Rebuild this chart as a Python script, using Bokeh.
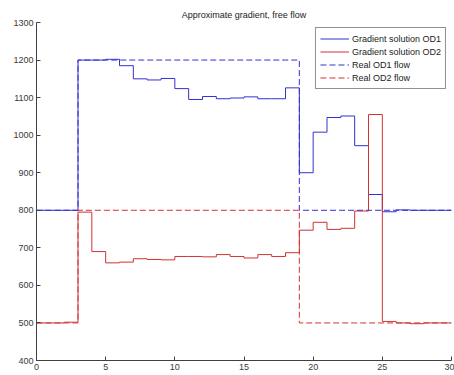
from bokeh.plotting import figure
from bokeh.models import FixedTicker, Range1d, Legend, LegendItem
from bokeh.embed import file_html
from bokeh.resources import INLINE

# data
steps = list(range(0, 31))
grad_od1 = [800, 800, 800, 1200, 1200, 1202, 1185, 1150, 1147, 1151, 1124, 1095, 1103, 1097, 1099,
            1102, 1097, 1097, 1126, 900, 1008, 1047, 1051, 972, 842, 796, 801, 800, 800, 800, 800]
grad_od2 = [500, 500, 502, 795, 690, 660, 662, 671, 669, 668, 677, 677, 676, 682, 677,
            673, 682, 677, 687, 747, 768, 749, 752, 798, 1055, 504, 500, 498, 500, 500, 500]
real_od1 = [800, 800, 800] + [1200] * 16 + [800] * 12
real_od2 = [500, 500, 500] + [800] * 16 + [500] * 12
x_ticks = [0, 5, 10, 15, 20, 25, 30]
y_ticks = [400, 500, 600, 700, 800, 900, 1000, 1100, 1200, 1300]
labels = ["Gradient solution OD1", "Gradient solution OD2", "Real OD1 flow", "Real OD2 flow"]

BLUE = "#3232d2"
RED = "#d23232"
FONT = "Liberation Sans"

p = figure(width=454, height=375, output_backend="svg", toolbar_location=None,
           x_range=Range1d(0, 30), y_range=Range1d(400, 1300),
           title="Approximate gradient, free flow",
           min_border_left=36, min_border_right=3, min_border_top=22, min_border_bottom=15)

p.title.align = "center"
p.title.text_font = FONT
p.title.text_font_size = "9px"
p.title.text_font_style = "normal"
p.title.text_color = "#222222"
p.title.standoff = 5

p.grid.visible = False
p.outline_line_color = None
p.background_fill_color = "white"
p.border_fill_color = "white"

for ax in (p.xaxis[0], p.yaxis[0]):
    ax.axis_line_color = "#404040"
    ax.major_tick_line_color = "#404040"
    ax.minor_tick_line_color = None
    ax.major_tick_in = 4
    ax.major_tick_out = 0
    ax.major_label_text_font = FONT
    ax.major_label_text_font_size = "9px"
    ax.major_label_text_color = "#3a3a3a"
    ax.major_label_standoff = 3

p.xaxis[0].ticker = FixedTicker(ticks=x_ticks)
p.yaxis[0].ticker = FixedTicker(ticks=y_ticks)

r1 = p.step(steps, grad_od1, mode="after", line_color=BLUE, line_width=1)
r2 = p.step(steps, grad_od2, mode="after", line_color=RED, line_width=1)
r3 = p.step(steps, real_od1, mode="after", line_color=BLUE, line_width=1, line_dash="6 3")
r4 = p.step(steps, real_od2, mode="after", line_color=RED, line_width=1, line_dash="6 3")

legend = Legend(items=[LegendItem(label=l, renderers=[r]) for l, r in zip(labels, [r1, r2, r3, r4])],
                location="top_right")
legend.label_text_font = FONT
legend.label_text_font_size = "9px"
legend.label_text_color = "#222222"
legend.label_height = 13
legend.glyph_height = 13
legend.glyph_width = 29
legend.label_standoff = 3
legend.spacing = 0
legend.padding = 4
legend.margin = 5
legend.border_line_color = "#222222"
legend.border_line_width = 1
legend.background_fill_alpha = 1
p.add_layout(legend)

open("out.html", "w").write(file_html(p, INLINE))
